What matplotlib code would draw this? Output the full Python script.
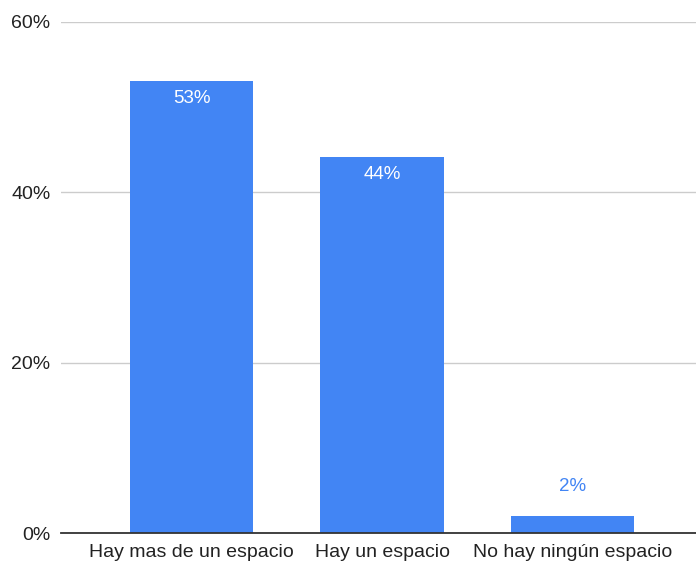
import numpy as np
import matplotlib.pyplot as plt
from matplotlib.ticker import FuncFormatter

# datos
categorias = ['Hay mas de un espacio', 'Hay un espacio', 'No hay ningún espacio']
porcentajes = [53.05, 44.1, 2.0]
etiquetas = ['53%', '44%', '2%']
ticks_y = [0, 20, 40, 60]

plt.rcParams['font.family'] = ['Liberation Sans', 'DejaVu Sans']
azul = '#4285f4'

fig = plt.figure(figsize=(6.96, 5.62), dpi=100)
ax = fig.add_axes([61 / 696, 29 / 562, 1 - 61 / 696, (533 - 22) / 562])

x = np.arange(len(categorias))
barras = ax.bar(x, porcentajes, width=0.646, color=azul, zorder=3)

for b, val, txt in zip(barras, porcentajes, etiquetas):
    cx = b.get_x() + b.get_width() / 2
    if val > 10:
        ax.text(cx, val - 1.0, txt, ha='center', va='top', color='white', fontsize=13.5, zorder=4)
    else:
        ax.text(cx, val + 2.5, txt, ha='center', va='bottom', color=azul, fontsize=13.5, zorder=4)

ax.set_xlim(-0.685, 2.648)
ax.set_ylim(0, 60)
ax.set_yticks(ticks_y)
ax.yaxis.set_major_formatter(FuncFormatter(lambda v, p: f'{int(v)}%'))
ax.set_xticks(x)
ax.set_xticklabels(categorias)
ax.tick_params(axis='both', length=0, labelsize=14, labelcolor='#222222')
ax.tick_params(axis='x', pad=8)
ax.tick_params(axis='y', pad=7.5)

ax.grid(axis='y', color='#cccccc', linewidth=1, zorder=0)
for s in ['top', 'right', 'left']:
    ax.spines[s].set_visible(False)
ax.spines['bottom'].set_color('#333333')
ax.spines['bottom'].set_linewidth(1.3)
ax.spines['bottom'].set_zorder(5)

fig.savefig('out.png', dpi=100)
